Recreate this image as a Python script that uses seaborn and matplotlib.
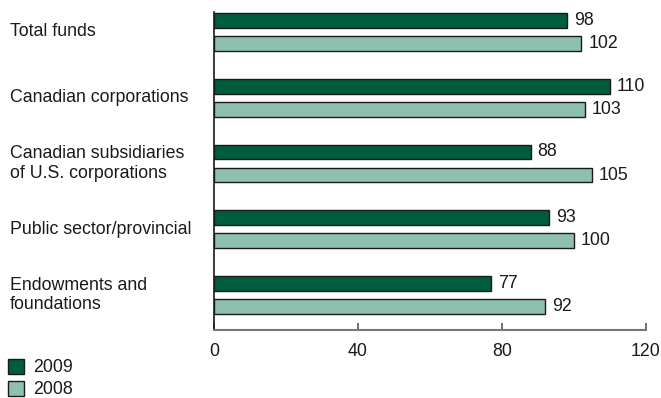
import matplotlib
matplotlib.use("Agg")
import matplotlib.pyplot as plt
import seaborn as sns
import pandas as pd
from matplotlib.patches import Patch
from matplotlib.transforms import blended_transform_factory

categories = ["Total funds", "Canadian corporations",
              "Canadian subsidiaries\nof U.S. corporations",
              "Public sector/provincial", "Endowments and\nfoundations"]
values_2009 = [98, 110, 88, 93, 77]
values_2008 = [102, 103, 105, 100, 92]
years = ["2009", "2008"]
xticks = [0, 40, 80, 120]

sns.set_theme(style="white")
plt.rcParams["font.family"] = ["Liberation Sans", "DejaVu Sans"]

df = pd.DataFrame({
    "category": categories * 2,
    "value": values_2009 + values_2008,
    "year": ["2009"] * len(categories) + ["2008"] * len(categories),
})
colors = {"2009": "#005c3f", "2008": "#8fbfad"}
FS = 12.8

fig = plt.figure(figsize=(6.61, 3.98), dpi=100)
ax = fig.add_axes([214 / 661, (398 - 330) / 398, (646 - 214) / 661, (330 - 12) / 398])

sns.barplot(data=df, y="category", x="value", hue="year", hue_order=years,
            palette=colors, saturation=1, orient="h", width=0.7, gap=0.35,
            edgecolor="#1a1a1a", linewidth=1.0, legend=False, ax=ax)

for cont in ax.containers:
    ax.bar_label(cont, padding=5, fontsize=FS, color="#1a1a1a")

ax.set_xlim(0, 120)
ax.set_ylim(4.532, -0.304)
ax.set_xticks(xticks)
ax.set_xticklabels([str(t) for t in xticks], fontsize=FS, color="#1a1a1a")
ax.tick_params(axis="x", bottom=True, direction="in", length=5, width=1.2,
               color="#555555", pad=9)
ax.set_yticks([])
ax.set_xlabel("")
ax.set_ylabel("")

for s in ["top", "right"]:
    ax.spines[s].set_visible(False)
ax.spines["left"].set_color("#1a1a1a")
ax.spines["left"].set_linewidth(1.2)
ax.spines["bottom"].set_color("#777777")
ax.spines["bottom"].set_linewidth(1.5)

trans = blended_transform_factory(fig.transFigure, ax.transData)
for i, cat in enumerate(categories):
    ax.text(10 / 661, i, cat, transform=trans, ha="left", va="center",
            fontsize=FS, color="#1a1a1a", linespacing=1.2)

handles = [Patch(facecolor=colors[y], edgecolor="#1a1a1a", linewidth=1.0, label=y) for y in years]
fig.legend(handles=handles, loc="lower left", bbox_to_anchor=(-0.006, -0.032), frameon=False,
           fontsize=FS, handlelength=0.9, handleheight=0.9, handletextpad=0.5,
           labelspacing=0.25, borderaxespad=0.3, labelcolor="#1a1a1a")

fig.savefig("out.png", dpi=100)
